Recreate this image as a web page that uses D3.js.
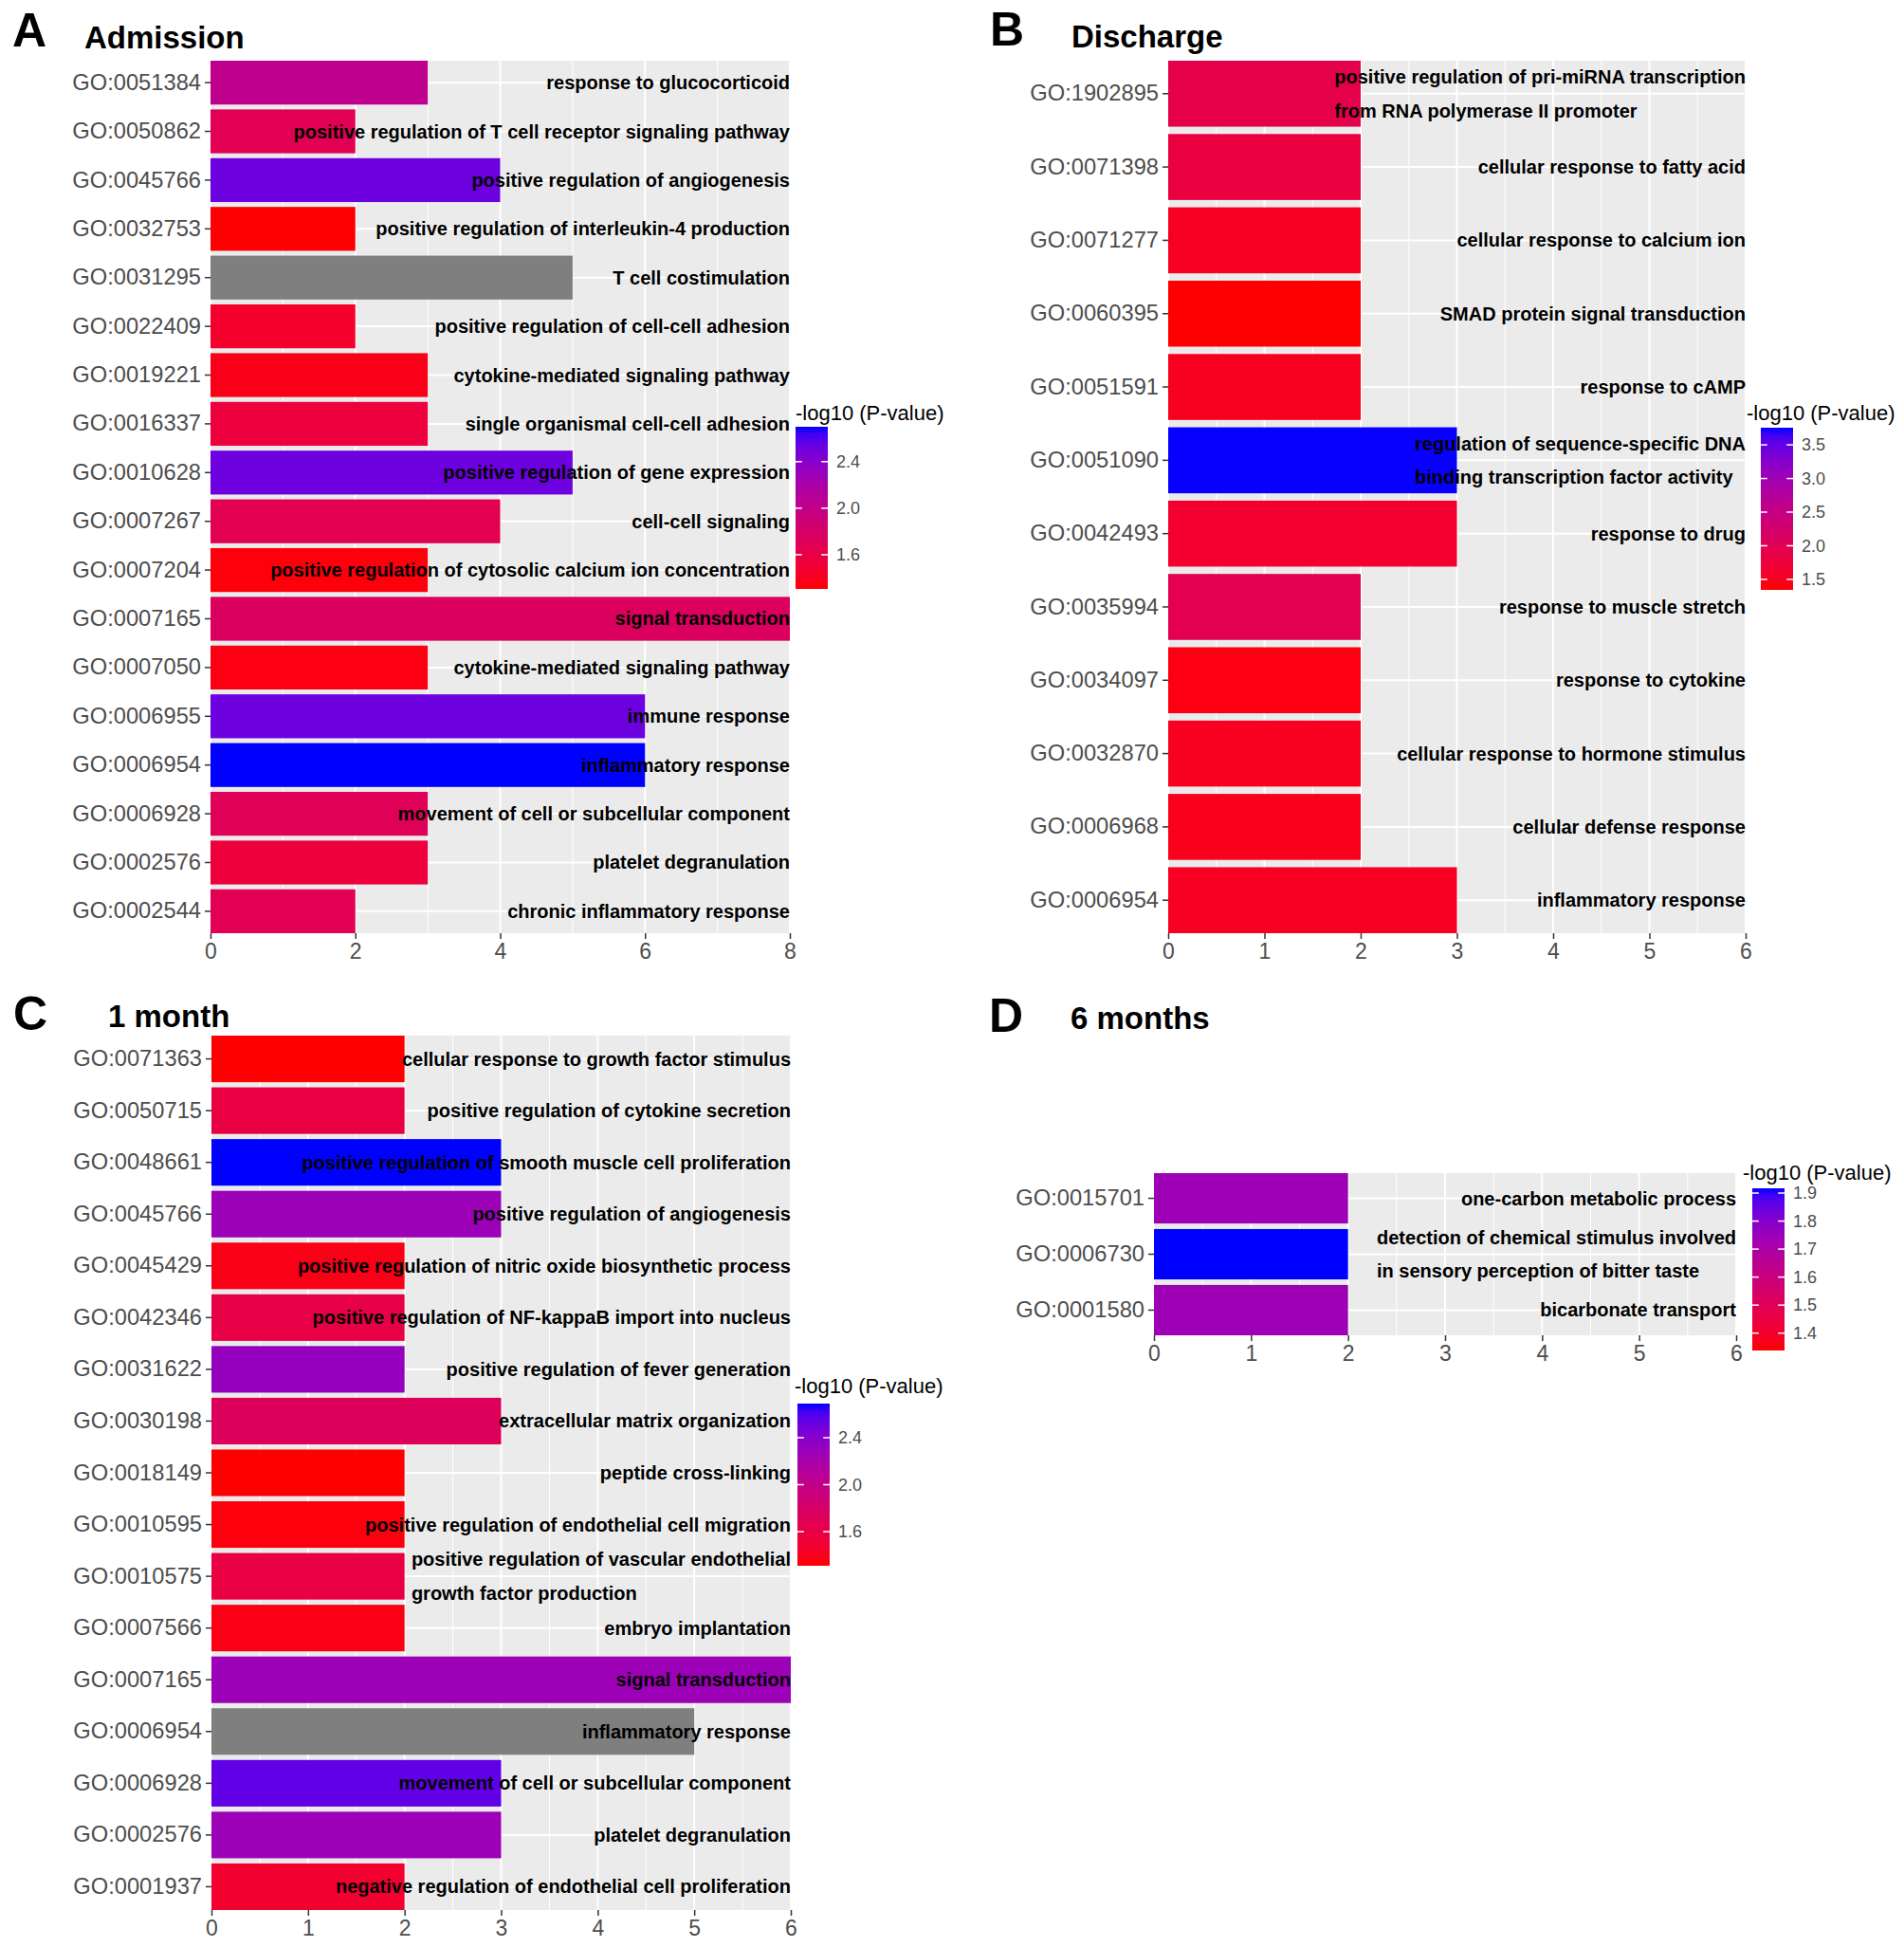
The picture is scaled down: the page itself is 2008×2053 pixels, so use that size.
<!DOCTYPE html>
<html>
<head>
<meta charset="utf-8">
<script src="https://cdn.jsdelivr.net/npm/d3@7"></script>
<style>
  body { margin: 0; background: #fff; }
  svg { display: block; font-family: "Liberation Sans", Arial, Helvetica, sans-serif; }
</style>
</head>
<body>
<script>
// Panel A - Admission
const admissionIds = ['GO:0051384', 'GO:0050862', 'GO:0045766', 'GO:0032753', 'GO:0031295', 'GO:0022409', 'GO:0019221', 'GO:0016337', 'GO:0010628', 'GO:0007267', 'GO:0007204', 'GO:0007165', 'GO:0007050', 'GO:0006955', 'GO:0006954', 'GO:0006928', 'GO:0002576', 'GO:0002544'];
const admissionTerms = ['response to glucocorticoid', 'positive regulation of T cell receptor signaling pathway', 'positive regulation of angiogenesis', 'positive regulation of interleukin-4 production', 'T cell costimulation', 'positive regulation of cell-cell adhesion', 'cytokine-mediated signaling pathway', 'single organismal cell-cell adhesion', 'positive regulation of gene expression', 'cell-cell signaling', 'positive regulation of cytosolic calcium ion concentration', 'signal transduction', 'cytokine-mediated signaling pathway', 'immune response', 'inflammatory response', 'movement of cell or subcellular component', 'platelet degranulation', 'chronic inflammatory response'];
const admissionCounts = [3, 2, 4, 2, 5, 2, 3, 3, 5, 4, 3, 8, 3, 6, 6, 3, 3, 2];
const admissionLogP = [2.03, 1.68, 2.52, 1.31, null, 1.46, 1.37, 1.55, 2.52, 1.66, 1.33, 1.74, 1.35, 2.52, 2.70, 1.70, 1.54, 1.68];

// Panel B - Discharge
const dischargeIds = ['GO:1902895', 'GO:0071398', 'GO:0071277', 'GO:0060395', 'GO:0051591', 'GO:0051090', 'GO:0042493', 'GO:0035994', 'GO:0034097', 'GO:0032870', 'GO:0006968', 'GO:0006954'];
const dischargeTerms = ['positive regulation of pri-miRNA transcription\nfrom RNA polymerase II promoter', 'cellular response to fatty acid', 'cellular response to calcium ion', 'SMAD protein signal transduction', 'response to cAMP', 'regulation of sequence-specific DNA\nbinding transcription factor activity', 'response to drug', 'response to muscle stretch', 'response to cytokine', 'cellular response to hormone stimulus', 'cellular defense response', 'inflammatory response'];
const dischargeCounts = [2, 2, 2, 2, 2, 3, 3, 2, 2, 2, 2, 3];
const dischargeLogP = [1.90, 1.80, 1.52, 1.35, 1.50, 3.75, 1.62, 1.95, 1.42, 1.50, 1.48, 1.52];

// Panel C - 1 month
const month1Ids = ['GO:0071363', 'GO:0050715', 'GO:0048661', 'GO:0045766', 'GO:0045429', 'GO:0042346', 'GO:0031622', 'GO:0030198', 'GO:0018149', 'GO:0010595', 'GO:0010575', 'GO:0007566', 'GO:0007165', 'GO:0006954', 'GO:0006928', 'GO:0002576', 'GO:0001937'];
const month1Terms = ['cellular response to growth factor stimulus', 'positive regulation of cytokine secretion', 'positive regulation of smooth muscle cell proliferation', 'positive regulation of angiogenesis', 'positive regulation of nitric oxide biosynthetic process', 'positive regulation of NF-kappaB import into nucleus', 'positive regulation of fever generation', 'extracellular matrix organization', 'peptide cross-linking', 'positive regulation of endothelial cell migration', 'positive regulation of vascular endothelial\ngrowth factor production', 'embryo implantation', 'signal transduction', 'inflammatory response', 'movement of cell or subcellular component', 'platelet degranulation', 'negative regulation of endothelial cell proliferation'];
const month1Counts = [2, 2, 3, 3, 2, 2, 2, 3, 2, 2, 2, 2, 6, 5, 3, 3, 2];
const month1LogP = [1.31, 1.58, 2.69, 2.28, 1.37, 1.60, 2.32, 1.72, 1.31, 1.34, 1.58, 1.36, 2.28, null, 2.55, 2.28, 1.48];

// Panel D - 6 months
const month6Ids = ['GO:0015701', 'GO:0006730', 'GO:0001580'];
const month6Terms = ['one-carbon metabolic process', 'detection of chemical stimulus involved\nin sensory perception of bitter taste', 'bicarbonate transport'];
const month6Counts = [2, 2, 2];
const month6LogP = [1.74, 1.917, 1.74];

// Axis ticks and colour-bar ranges
const admissionXTicks = [0, 2, 4, 6, 8];
const sixXTicks = [0, 1, 2, 3, 4, 5, 6];
const admissionLegendRange = [1.306, 2.70];
const admissionLegendTicks = [1.6, 2.0, 2.4];
const dischargeLegendRange = [1.344, 3.755];
const dischargeLegendTicks = [1.5, 2.0, 2.5, 3.0, 3.5];
const month1LegendRange = [1.31, 2.69];
const month1LegendTicks = [1.6, 2.0, 2.4];
const month6LegendRange = [1.338, 1.917];
const month6LegendTicks = [1.4, 1.5, 1.6, 1.7, 1.8, 1.9];

const legendTitle = '-log10 (P-value)';
const naColor = '#7F7F7F';

const svg = d3.select('body').append('svg')
  .attr('width', 2008)
  .attr('height', 2053);

const defs = svg.append('defs');

const panels = [
  { key: 'A', title: 'Admission', ids: admissionIds, terms: admissionTerms, counts: admissionCounts, logp: admissionLogP,
    xMax: 8, xTicks: admissionXTicks, legRange: admissionLegendRange, legTicks: admissionLegendTicks,
    box: { x0: 222, x1: 833, y0: 64, y1: 984 }, letter: [13, 49], head: [89, 51], leg: { titleX: 839, titleY: 443, x: 839, y: 450 } },
  { key: 'B', title: 'Discharge', ids: dischargeIds, terms: dischargeTerms, counts: dischargeCounts, logp: dischargeLogP,
    xMax: 6, xTicks: sixXTicks, legRange: dischargeLegendRange, legTicks: dischargeLegendTicks,
    box: { x0: 1232, x1: 1841, y0: 64, y1: 984 }, letter: [1044, 48], head: [1130, 50], leg: { titleX: 1842, titleY: 443, x: 1857, y: 451 } },
  { key: 'C', title: '1 month', ids: month1Ids, terms: month1Terms, counts: month1Counts, logp: month1LogP,
    xMax: 6, xTicks: sixXTicks, legRange: month1LegendRange, legTicks: month1LegendTicks,
    box: { x0: 223, x1: 834, y0: 1092, y1: 2014 }, letter: [14, 1086], head: [114, 1083], leg: { titleX: 838, titleY: 1469, x: 841, y: 1480 } },
  { key: 'D', title: '6 months', ids: month6Ids, terms: month6Terms, counts: month6Counts, logp: month6LogP,
    xMax: 6, xTicks: sixXTicks, legRange: month6LegendRange, legTicks: month6LegendTicks,
    box: { x0: 1217, x1: 1831, y0: 1237, y1: 1408 }, letter: [1043, 1088], head: [1129, 1085], leg: { titleX: 1838, titleY: 1244, x: 1848, y: 1253 } }
];

const barW = 34;
const barH = 171;

function drawPanel(p) {
  const g = svg.append('g').attr('class', 'panel-' + p.key);
  const { x0, x1, y0, y1 } = p.box;

  const x = d3.scaleLinear().domain([0, p.xMax]).range([x0, x1]);
  const y = d3.scaleBand().domain(p.ids).range([y0, y1]).paddingInner(0.1).paddingOuter(0);
  const color = d3.scaleLinear().domain(p.legRange).range(['#FF0000', '#0000FF'])
    .interpolate(d3.interpolateLab).clamp(true);

  const rows = p.ids.map((id, i) => ({ id, term: p.terms[i], count: p.counts[i], logp: p.logp[i] }));

  // panel letter and title
  g.append('text').attr('x', p.letter[0]).attr('y', p.letter[1])
    .attr('font-size', 50).attr('font-weight', 'bold').attr('fill', '#000').text(p.key);
  g.append('text').attr('x', p.head[0]).attr('y', p.head[1])
    .attr('font-size', 33).attr('font-weight', 'bold').attr('fill', '#000').text(p.title);

  // panel background and grid
  g.append('rect').attr('x', x0).attr('y', y0).attr('width', x1 - x0).attr('height', y1 - y0).attr('fill', '#EBEBEB');
  const step = p.xTicks[1] - p.xTicks[0];
  const minor = p.xTicks.slice(0, -1).map(t => t + step / 2);
  g.selectAll('line.minor').data(minor).join('line').attr('class', 'minor')
    .attr('x1', d => x(d)).attr('x2', d => x(d)).attr('y1', y0).attr('y2', y1)
    .attr('stroke', '#fff').attr('stroke-width', 1);
  g.selectAll('line.vmajor').data(p.xTicks).join('line').attr('class', 'vmajor')
    .attr('x1', d => x(d)).attr('x2', d => x(d)).attr('y1', y0).attr('y2', y1)
    .attr('stroke', '#fff').attr('stroke-width', 2);
  g.selectAll('line.hmajor').data(p.ids).join('line').attr('class', 'hmajor')
    .attr('x1', x0).attr('x2', x1)
    .attr('y1', d => y(d) + y.bandwidth() / 2).attr('y2', d => y(d) + y.bandwidth() / 2)
    .attr('stroke', '#fff').attr('stroke-width', 2);

  // bars
  g.selectAll('rect.bar').data(rows).join('rect').attr('class', 'bar')
    .attr('x', x(0)).attr('y', d => y(d.id))
    .attr('width', d => x(d.count) - x(0)).attr('height', y.bandwidth())
    .attr('fill', d => d.logp == null ? naColor : color(d.logp));

  // term labels, right aligned to the panel edge, multi-line blocks left aligned
  const lineGap = 35.5;
  rows.forEach(d => {
    const lines = d.term.split('\n');
    const cy = y(d.id) + y.bandwidth() / 2;
    const texts = lines.map((line, i) => g.append('text')
      .attr('y', cy + (i - (lines.length - 1) / 2) * lineGap)
      .attr('dy', '0.35em')
      .attr('font-size', 20).attr('font-weight', 'bold').attr('fill', '#000')
      .text(line));
    if (lines.length === 1) {
      texts[0].attr('x', x1).attr('text-anchor', 'end');
    } else {
      const w = d3.max(texts, t => t.node().getComputedTextLength());
      texts.forEach(t => t.attr('x', x1 - w).attr('text-anchor', 'start'));
    }
  });

  // axes
  const yAxis = g.append('g').attr('transform', `translate(${x0},0)`)
    .call(d3.axisLeft(y).tickSize(6).tickPadding(4));
  const xAxis = g.append('g').attr('transform', `translate(0,${y1})`)
    .call(d3.axisBottom(x).tickValues(p.xTicks).tickFormat(d3.format('d')).tickSize(6).tickPadding(5));
  [yAxis, xAxis].forEach(a => {
    a.select('.domain').remove();
    a.selectAll('.tick line').attr('stroke', '#333').attr('stroke-width', 1.5);
    a.selectAll('.tick text').attr('fill', '#4D4D4D').attr('font-size', 23.7)
      .attr('font-family', '"Liberation Sans", Arial, Helvetica, sans-serif');
  });
  xAxis.selectAll('.tick text').attr('font-size', 23);

  // colour bar legend
  const L = p.leg;
  const ly = d3.scaleLinear().domain(p.legRange).range([L.y + barH, L.y]);
  const gradId = 'grad-' + p.key;
  const grad = defs.append('linearGradient').attr('id', gradId)
    .attr('x1', 0).attr('y1', 1).attr('x2', 0).attr('y2', 0);
  d3.range(0, 1.0001, 0.05).forEach(t => {
    grad.append('stop').attr('offset', t)
      .attr('stop-color', color(p.legRange[0] + t * (p.legRange[1] - p.legRange[0])));
  });
  const lg = g.append('g').attr('class', 'legend');
  lg.append('text').attr('x', L.titleX).attr('y', L.titleY)
    .attr('font-size', 22).attr('fill', '#000').text(legendTitle);
  lg.append('rect').attr('x', L.x).attr('y', L.y).attr('width', barW).attr('height', barH)
    .attr('fill', `url(#${gradId})`);
  const tk = barW / 5;
  lg.selectAll('line.tl').data(p.legTicks).join('line').attr('class', 'tl')
    .attr('x1', L.x).attr('x2', L.x + tk).attr('y1', d => ly(d)).attr('y2', d => ly(d))
    .attr('stroke', '#fff').attr('stroke-width', 1.5);
  lg.selectAll('line.tr').data(p.legTicks).join('line').attr('class', 'tr')
    .attr('x1', L.x + barW - tk).attr('x2', L.x + barW).attr('y1', d => ly(d)).attr('y2', d => ly(d))
    .attr('stroke', '#fff').attr('stroke-width', 1.5);
  lg.selectAll('text.tick').data(p.legTicks).join('text').attr('class', 'tick')
    .attr('x', L.x + barW + 9).attr('y', d => ly(d)).attr('dy', '0.35em')
    .attr('font-size', 18).attr('fill', '#4D4D4D').text(d => d3.format('.1f')(d));
}

panels.forEach(drawPanel);
</script>
</body>
</html>
